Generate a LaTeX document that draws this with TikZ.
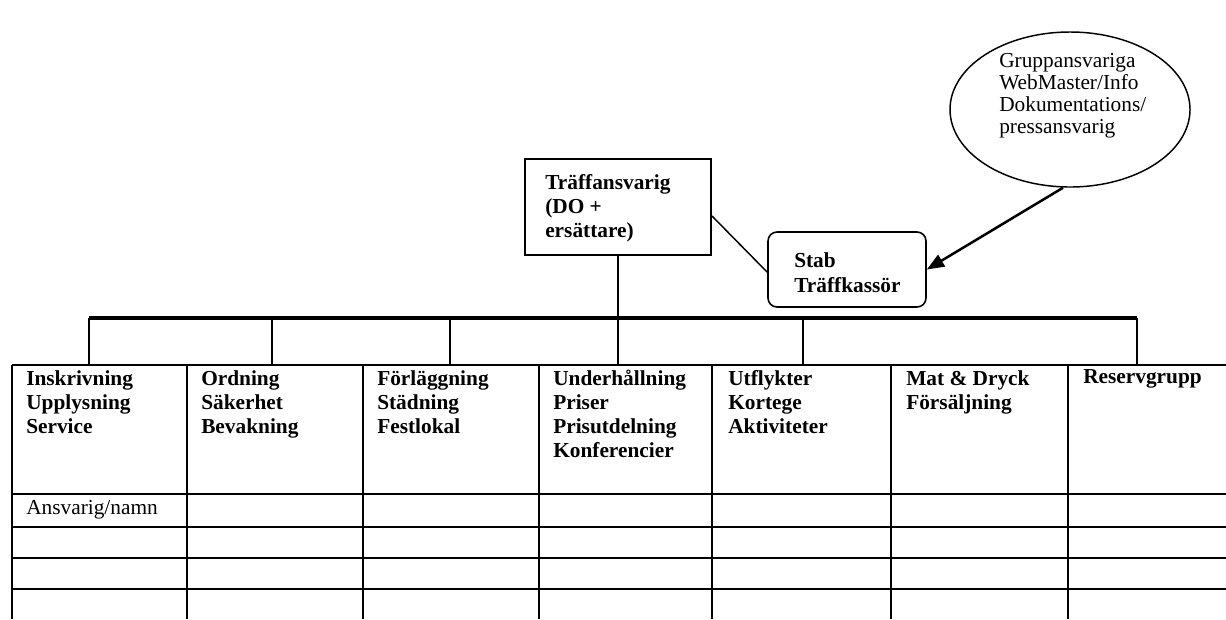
\documentclass[tikz,border=0pt]{standalone}
\usepackage{fontspec}
\setmainfont{Liberation Serif}
\usetikzlibrary{arrows.meta,shapes.geometric,calc}
\tikzset{
  boxline/.style={line width=1.5pt},
  grid/.style={line width=1.4pt},
  bus/.style={line width=3pt},
  hdr/.style={anchor=base west,inner sep=0pt,align=left,font=\fontsize{16}{18}\selectfont\bfseries},
  plain/.style={anchor=base west,inner sep=0pt,align=left,font=\fontsize{16}{16.5}\selectfont},
}
\begin{document}
\begin{tikzpicture}[x=0.75pt,y=-0.75pt]
\useasboundingbox (0,0) rectangle (1226,619);
% ellipse
\node[ellipse,draw,line width=1.1pt,minimum width=180pt,minimum height=116.25pt,inner sep=0pt] (ell) at (1070,109.5) {};
\node[plain] (elltxt) at (999,133) {Gruppansvariga\\WebMaster/Info\\Dokumentations/\\pressansvarig};
% main box
\node[rectangle,draw,boxline,minimum width=139.5pt,minimum height=72pt,inner sep=0pt] (ta) at (618,207) {};
\node[hdr] (tatxt) at (545,237) {Träffansvarig\\(DO +\\ersättare)};
% stab box
\node[rectangle,draw,line width=1.2pt,rounded corners=6.75pt,minimum width=118.5pt,minimum height=56.25pt,inner sep=0pt] (stab) at (847,269.5) {};
\node[hdr,font=\fontsize{16}{18.75}\selectfont\bfseries] (stabtxt) at (794,292) {Stab\\Träffkassör};
% connectors
\draw[line width=1.1pt] ([yshift=-6.75pt]ta.east) -- ([yshift=-2pt]stab.west);
\draw[line width=1.9pt,-{Triangle[length=13pt,width=10pt]}] ([xshift=-5.25pt]ell.south) -- (stab.east);
% bus
\coordinate (bL) at (89,318);
\coordinate (bR) at (1137,318);
\coordinate (top) at (0,365);
\draw[bus] (bL) -- (bR);
\draw[grid] (ta.south) -- (ta.south |- top);
\foreach \x/\n in {89/d1,272/d2,450/d3,803/d5,1137/d6}{
  \coordinate (\n) at (\x,318);
  \draw[grid] (\n) -- (\n |- top);
}
% table
\foreach \y in {365,494,527,558,589}{
  \draw[grid] (12,\y) -- (1226,\y);
}
\foreach \x in {12,187,363,539,712,891,1068}{
  \draw[grid] (\x,365) -- (\x,619);
}
% header texts (anchor at baseline of last line)
\node[hdr] (c1) at (26,433) {Inskrivning\\Upplysning\\Service};
\node[hdr] (c2) at (201,433) {Ordning\\Säkerhet\\Bevakning};
\node[hdr] (c3) at (377,433) {Förläggning\\Städning\\Festlokal};
\node[hdr] (c4) at (553,457) {Underhållning\\Priser\\Prisutdelning\\Konferencier};
\node[hdr] (c5) at (728,433) {Utflykter\\Kortege\\Aktiviteter};
\node[hdr] (c6) at (906,409) {Mat \& Dryck\\Försäljning};
\node[hdr] (c7) at (1083,383) {Reservgrupp};
\node[plain] (ans) at (26,514) {Ansvarig/namn};
\end{tikzpicture}
\end{document}
